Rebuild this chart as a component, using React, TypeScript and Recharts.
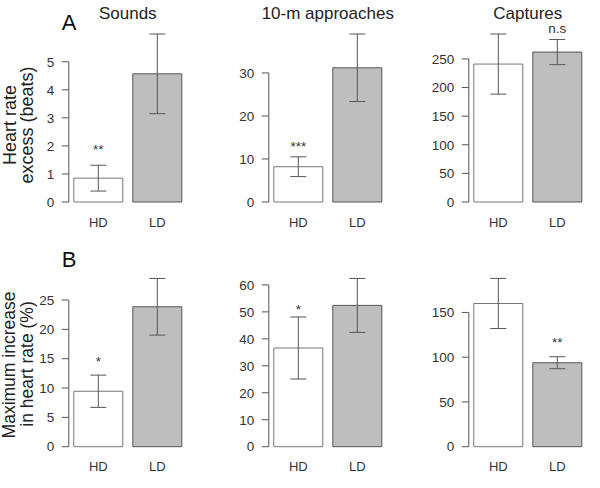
import React from "react";
import {
  BarChart,
  Bar,
  Cell,
  XAxis,
  YAxis,
  ErrorBar,
  ReferenceLine,
  ReferenceDot,
} from "recharts";

// groups on the x axis
const groups = ["HD", "LD"];

// A: heart rate excess (beats), mean and SE
const soundsExcess = [0.85, 4.57];
const soundsExcessSe = [0.46, 1.42];
const approachExcess = [8.2, 31.2];
const approachExcessSe = [2.3, 7.85];
const captureExcess = [241, 262];
const captureExcessSe = [52.5, 22];

// B: maximum increase in heart rate (%), mean and SE
const soundsIncrease = [9.45, 23.85];
const soundsIncreaseSe = [2.75, 4.83];
const approachIncrease = [36.6, 52.4];
const approachIncreaseSe = [11.5, 10.0];
const captureIncrease = [160, 93.8];
const captureIncreaseSe = [28, 6.7];

// tick labels
const soundsExcessTicks = [0, 1, 2, 3, 4, 5];
const approachExcessTicks = [0, 10, 20, 30];
const captureExcessTicks = [0, 50, 100, 150, 200, 250];
const soundsIncreaseTicks = [0, 5, 10, 15, 20, 25];
const approachIncreaseTicks = [0, 10, 20, 30, 40, 50, 60];
const captureIncreaseTicks = [0, 50, 100, 150];

const titles = ["Sounds", "10-m approaches", "Captures"];

const FONT = "'Liberation Sans', Arial, Helvetica, sans-serif";
const AXIS = "#555";
const TEXT = "#333";
const FILLS = ["#ffffff", "#bebebe"];
const EDGES = ["#777", "#555"];

type Sig = { group: string; text: string; gap: number };

type PanelProps = {
  col: number;
  row: number;
  means: number[];
  errs: number[];
  ticks: number[];
  sig: Sig;
};

const rows = [
  { top: 0, height: 240, marginTop: 27.3, marginBottom: 8 },
  { top: 240, height: 248, marginTop: 31.7, marginBottom: 11.3 },
];

function Panel({ col, row, means, errs, ticks, sig }: PanelProps) {
  const data = groups.map((g, i) => ({ group: g, mean: means[i], err: errs[i] }));
  const top = Math.max(...data.map((d) => d.mean + d.err)) * 1.04;
  const sigRow = data.find((d) => d.group === sig.group)!;
  const r = rows[row];

  return (
    <div style={{ position: "absolute", left: col * 200, top: r.top }}>
      <BarChart
        width={200}
        height={r.height}
        data={data}
        margin={{ top: r.marginTop, right: 13.2, bottom: r.marginBottom, left: 28.8 }}
        style={{ fontFamily: FONT }}
      >
        <XAxis
          dataKey="group"
          axisLine={false}
          tickLine={false}
          height={30}
          tickSize={8}
          tickMargin={7.5}
          tick={{ fill: TEXT, fontSize: 13 }}
        />
        <YAxis
          type="number"
          domain={[0, top]}
          ticks={ticks}
          width={40}
          axisLine={false}
          stroke={AXIS}
          tickSize={7}
          tickMargin={7.5}
          tick={{ fill: TEXT, fontSize: 13.5 }}
        />
        <ReferenceLine
          segment={[
            { x: groups[0], y: 0 },
            { x: groups[0], y: ticks[ticks.length - 1] },
          ]}
          position="start"
          stroke={AXIS}
          strokeWidth={1}
          ifOverflow="visible"
        />
        <Bar dataKey="mean" barSize={49} isAnimationActive={false}>
          {data.map((d, i) => (
            <Cell key={d.group} fill={FILLS[i]} stroke={EDGES[i]} strokeWidth={1} />
          ))}
          <ErrorBar dataKey="err" width={8} stroke={AXIS} strokeWidth={1} direction="y" />
        </Bar>
        <ReferenceDot
          x={sig.group}
          y={sigRow.mean + sigRow.err}
          r={0}
          fill="none"
          stroke="none"
          ifOverflow="visible"
          label={{
            value: sig.text,
            position: "top",
            offset: sig.gap,
            fill: TEXT,
            fontSize: 13.5,
          }}
        />
      </BarChart>
    </div>
  );
}

export default function App() {
  return (
    <div
      style={{
        position: "absolute",
        left: 0,
        top: 0,
        width: 600,
        height: 488,
        background: "#fff",
        fontFamily: FONT,
      }}
    >
      <Panel col={0} row={0} means={soundsExcess} errs={soundsExcessSe} ticks={soundsExcessTicks}
        sig={{ group: "HD", text: "**", gap: 11 }} />
      <Panel col={1} row={0} means={approachExcess} errs={approachExcessSe} ticks={approachExcessTicks}
        sig={{ group: "HD", text: "***", gap: 6 }} />
      <Panel col={2} row={0} means={captureExcess} errs={captureExcessSe} ticks={captureExcessTicks}
        sig={{ group: "LD", text: "n.s", gap: 6 }} />
      <Panel col={0} row={1} means={soundsIncrease} errs={soundsIncreaseSe} ticks={soundsIncreaseTicks}
        sig={{ group: "HD", text: "*", gap: 9.5 }} />
      <Panel col={1} row={1} means={approachIncrease} errs={approachIncreaseSe} ticks={approachIncreaseTicks}
        sig={{ group: "HD", text: "*", gap: 3 }} />
      <Panel col={2} row={1} means={captureIncrease} errs={captureIncreaseSe} ticks={captureIncreaseTicks}
        sig={{ group: "LD", text: "**", gap: 10 }} />

      <svg
        width={600}
        height={488}
        style={{ position: "absolute", left: 0, top: 0, pointerEvents: "none" }}
        fontFamily={FONT}
      >
        {titles.map((t, i) => (
          <text key={t} x={i * 200 + 127.8} y={18.5} textAnchor="middle" fontSize={17} fill="#222">
            {t}
          </text>
        ))}
        <text x={69} y={29.5} textAnchor="middle" fontSize={22} fill="#111">A</text>
        <text x={69} y={266.5} textAnchor="middle" fontSize={22} fill="#111">B</text>

        <text transform="translate(15.5,125) rotate(-90)" textAnchor="middle" fontSize={18} fill="#222">
          Heart rate
        </text>
        <text transform="translate(32.5,125) rotate(-90)" textAnchor="middle" fontSize={18} fill="#222">
          excess (beats)
        </text>
        <text transform="translate(15,365) rotate(-90)" textAnchor="middle" fontSize={17.5} fill="#222">
          Maximum increase
        </text>
        <text transform="translate(32.5,364) rotate(-90)" textAnchor="middle" fontSize={17.5} fill="#222">
          in heart rate (%)
        </text>
      </svg>
    </div>
  );
}
